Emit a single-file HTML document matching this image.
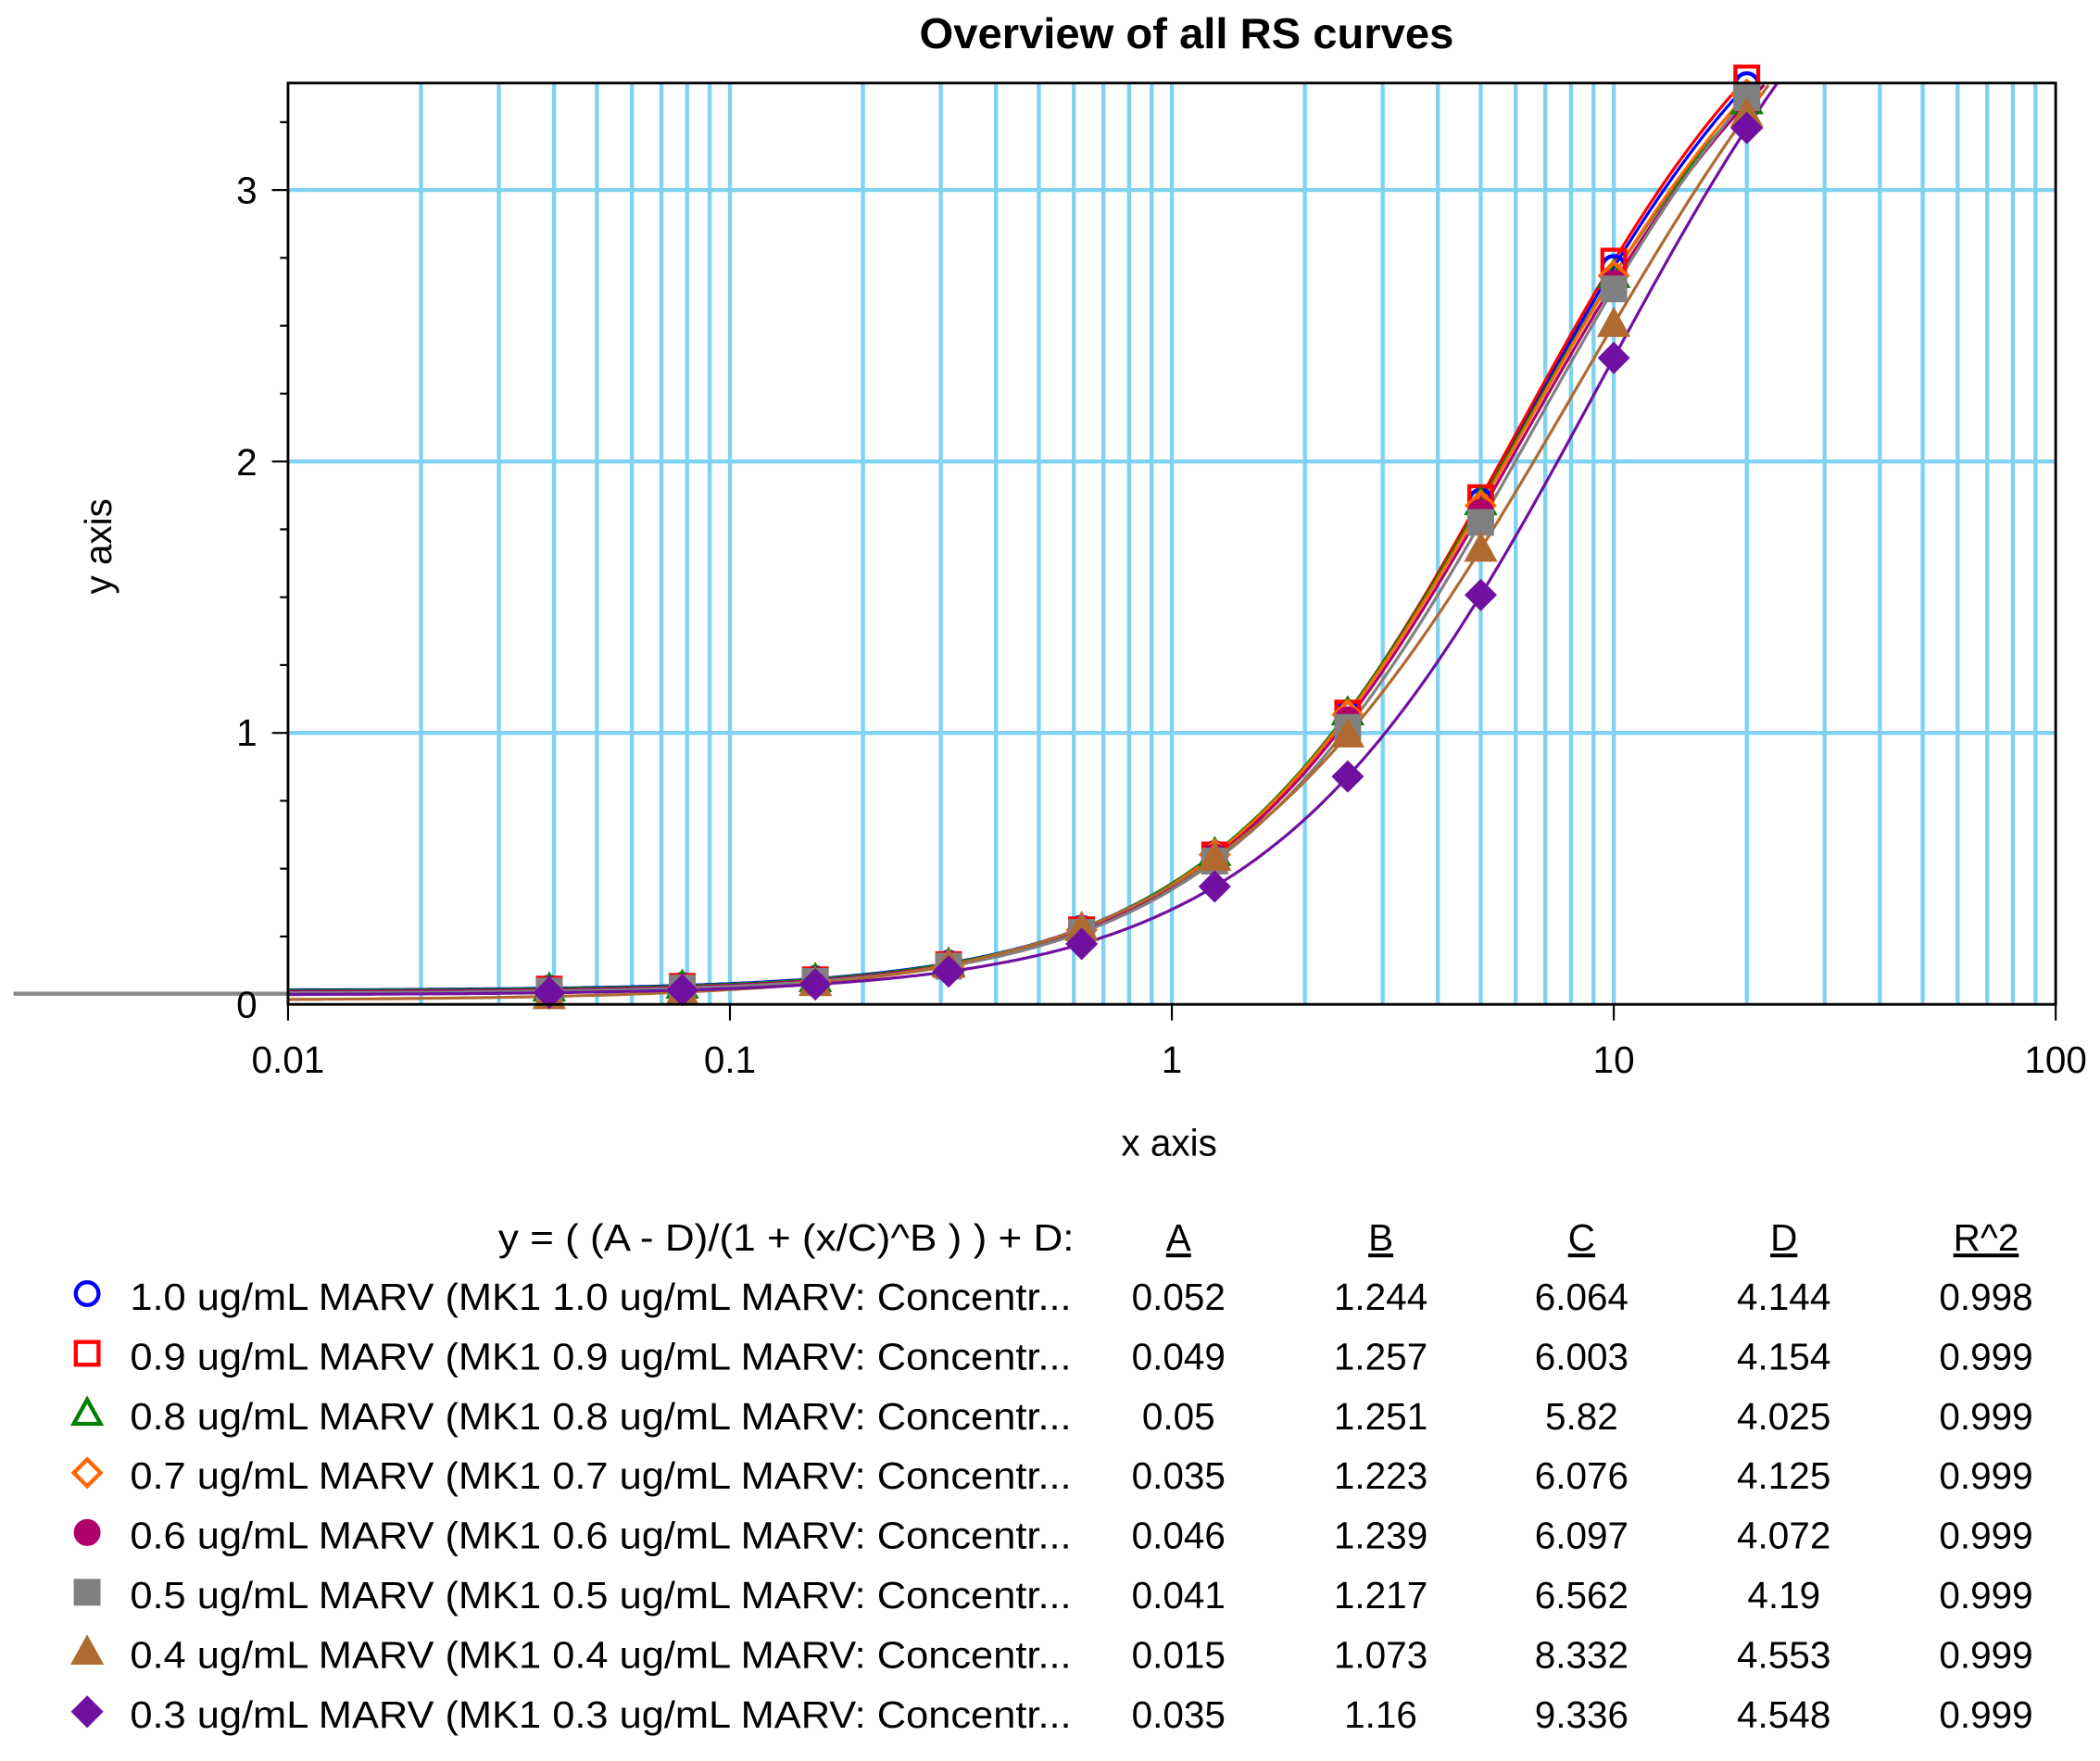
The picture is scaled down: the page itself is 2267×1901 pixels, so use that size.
<!DOCTYPE html>
<html><head><meta charset="utf-8"><style>
html,body{margin:0;padding:0;background:#fff;}
svg{display:block;}
text{font-family:"Liberation Sans",Arial,sans-serif;fill:#000;}
</style></head><body>
<svg id="s" width="2267" height="1901" viewBox="0 0 1568 1315" xmlns="http://www.w3.org/2000/svg">
<rect width="1568" height="1315" fill="#fff"/>
<g id="grid" stroke="#7fd3f0" stroke-width="3"></g>
<g id="curves" fill="none" stroke-width="2.2"></g>
<g id="marks"></g>
<rect x="215" y="62" width="1320" height="688" fill="none" stroke="#000" stroke-width="2"/>
<g id="ticks" stroke="#000" stroke-width="1.5"></g>
<text x="886" y="36" font-size="32" font-weight="bold" text-anchor="middle" textLength="399" lengthAdjust="spacingAndGlyphs">Overview of all RS curves</text>
<text x="873" y="863" font-size="28" text-anchor="middle">x axis</text>
<text transform="translate(83,408) rotate(-90)" font-size="28" text-anchor="middle">y axis</text>
<g font-size="28" text-anchor="end">
<text x="192" y="760">0</text><text x="192" y="557">1</text><text x="192" y="355">2</text><text x="192" y="152">3</text>
</g>
<g font-size="28" text-anchor="middle">
<text x="215" y="801">0.01</text><text x="545" y="801">0.1</text><text x="875" y="801">1</text><text x="1205" y="801">10</text><text x="1535" y="801">100</text>
</g>
<g id="legend" font-size="28"></g>
</svg>
<script>
var ns="http://www.w3.org/2000/svg";
function el(p,t,a,txt){var e=document.createElementNS(ns,t);for(var k in a)e.setAttribute(k,a[k]);if(txt!==undefined)e.textContent=txt;p.appendChild(e);return e;}
function X(v){return 215+330*(Math.log10(v)+2);}
function Y(v){return 750-202.7*v;}
var g=document.getElementById('grid');
for(var d=-2;d<2;d++)for(var m=2;m<=9;m++){var x=X(m*Math.pow(10,d));el(g,'line',{x1:x,y1:62,x2:x,y2:750});}
for(var d=-1;d<2;d++){var x=X(Math.pow(10,d));el(g,'line',{x1:x,y1:62,x2:x,y2:750});}
[1,2,3].forEach(function(v){el(g,'line',{x1:215,y1:Y(v),x2:1535,y2:Y(v)});});
var t=document.getElementById('ticks');
for(var v=0.25;v<3.4;v+=0.25){var y=Y(v);var L=(Math.abs(v-Math.round(v))<0.01)?12:6;el(t,'line',{x1:215,y1:y,x2:215-L,y2:y});}
for(var d=-2;d<=2;d++)el(t,'line',{x1:X(Math.pow(10,d)),y1:750,x2:X(Math.pow(10,d)),y2:762});
var S=[
["1.0","#0000ff","oc",0.052,1.244,6.064,4.144,"0.998"],
["0.9","#ff0000","sq",0.049,1.257,6.003,4.154,"0.999"],
["0.8","#008000","tr",0.05,1.251,5.82,4.025,"0.999"],
["0.7","#ff6600","di",0.035,1.223,6.076,4.125,"0.999"],
["0.6","#b0006a","fc",0.046,1.239,6.097,4.072,"0.999"],
["0.5","#808080","fs",0.041,1.217,6.562,4.19,"0.999"],
["0.4","#b06a30","ft",0.015,1.073,8.332,4.553,"0.999"],
["0.3","#7010a0","fd",0.035,1.16,9.336,4.548,"0.999"]];
function f(x,s){return (s[3]-s[6])/(1+Math.pow(x/s[5],s[4]))+s[6];}
var cg=document.getElementById('curves'),mg=document.getElementById('marks'),lg=document.getElementById('legend');
function mark(p,type,c,x,y,r){
 var fill=type[0]=='f'?c:'none',sw=type[0]=='f'?0:3;
 var k=type.slice(-2);
 if(k=='oc'||k=='fc')el(p,'circle',{cx:x,cy:y,r:r*0.85,fill:fill,stroke:c,'stroke-width':sw||3});
 else if(k=='sq'||k=='fs')el(p,'rect',{x:x-r*0.85,y:y-r*0.85,width:r*1.7,height:r*1.7,fill:fill,stroke:c,'stroke-width':sw||3});
 else if(k=='tr'||k=='ft')el(p,'polygon',{points:(x)+','+(y-r)+' '+(x+r)+','+(y+r*0.8)+' '+(x-r)+','+(y+r*0.8),fill:fill,stroke:c,'stroke-width':sw||3});
 else el(p,'polygon',{points:x+','+(y-r)+' '+(x+r)+','+y+' '+x+','+(y+r)+' '+(x-r)+','+y,fill:fill,stroke:c,'stroke-width':sw||3});
}
var xs=[0.039,0.078,0.156,0.3125,0.625,1.25,2.5,5,10,20];
el(cg,'line',{x1:10,y1:742,x2:215,y2:742,stroke:'#888','stroke-width':3});
S.forEach(function(s,i){
 var d='';for(var lx=-2;lx<=1.45;lx+=0.01){var x=Math.pow(10,lx),y=f(x,s);var py=Y(y);if(py<62)break;d+=(d?'L':'M')+(215+330*(lx+2)).toFixed(1)+','+py.toFixed(1);}
 el(cg,'path',{d:d,stroke:s[1]});
 xs.forEach(function(x){var y=f(x,s);if(Y(y)>=58)mark(mg,s[2],s[1],X(x),Y(y),10);});
 var ry=968+i*44.6;
 mark(lg,s[2],s[1],65,ry-2,10);
 el(lg,'text',{x:97,y:ry+10,textLength:703,lengthAdjust:'spacingAndGlyphs'},s[0]+" ug/mL MARV (MK1 "+s[0]+" ug/mL MARV: Concentr...");
 var vals=[s[3],s[4],s[5],s[6],s[7]],cx=[880,1031,1181,1332,1483];
 vals.forEach(function(v,j){el(lg,'text',{x:cx[j],y:ry+10,'text-anchor':'middle'},String(v));});
});
el(lg,'text',{x:372,y:934,textLength:430,lengthAdjust:'spacingAndGlyphs'},"y = ( (A - D)/(1 + (x/C)^B ) ) + D:");
["A","B","C","D","R^2"].forEach(function(h,j){var cx=[880,1031,1181,1332,1483][j];el(lg,'text',{x:cx,y:934,'text-anchor':'middle','text-decoration':'underline'},h);});
</script>
</body></html>
